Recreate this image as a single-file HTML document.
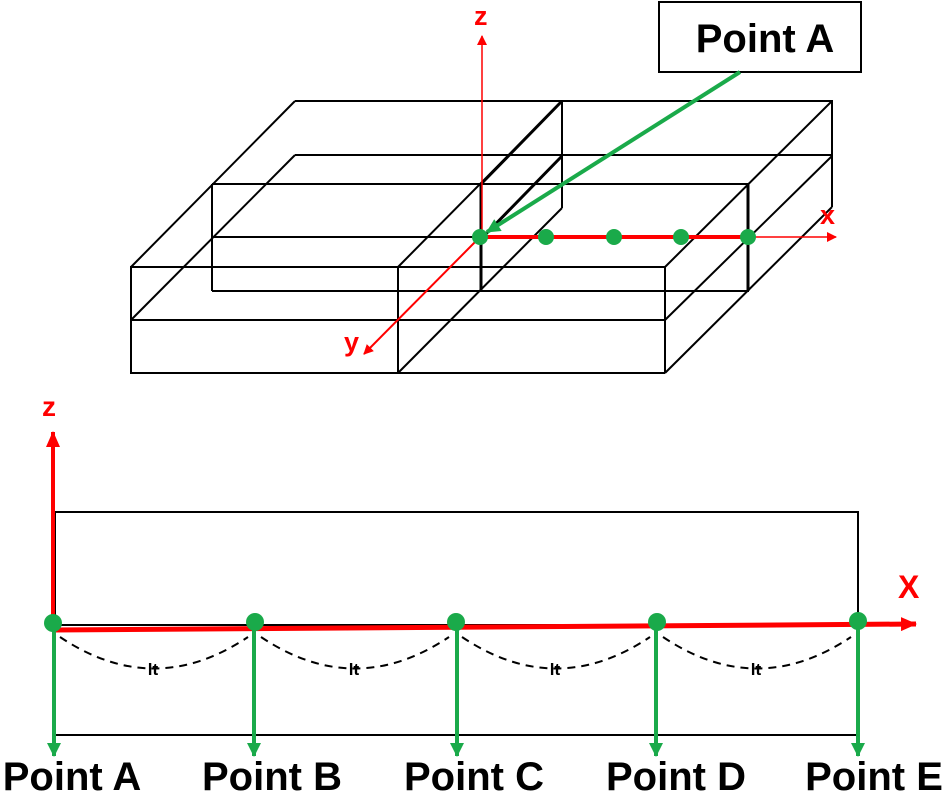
<!DOCTYPE html>
<html><head><meta charset="utf-8"><style>
html,body{margin:0;padding:0;background:#fff;}
svg{display:block;}
text{font-family:"Liberation Sans",sans-serif;font-weight:bold;}
</style></head><body>
<svg width="945" height="792" viewBox="0 0 945 792" xmlns="http://www.w3.org/2000/svg">
<defs>
<marker id="ar" markerWidth="10" markerHeight="10" refX="9" refY="5" orient="auto" markerUnits="userSpaceOnUse"><path d="M0,0 L10,5 L0,10 z" fill="#f00"/></marker>
<marker id="arb" markerWidth="16" markerHeight="14" refX="15" refY="7" orient="auto" markerUnits="userSpaceOnUse"><path d="M0,0 L16,7 L0,14 z" fill="#f00"/></marker>
<marker id="ag" markerWidth="14" markerHeight="14" refX="13" refY="7" orient="auto" markerUnits="userSpaceOnUse"><path d="M0,0 L14,7 L0,14 z" fill="#1aaa4a"/></marker>
</defs>
<g stroke="#000" stroke-width="2" fill="none">
<line x1="295" y1="101" x2="833" y2="101"/>
<line x1="295" y1="155" x2="833" y2="155"/>
<line x1="212" y1="184" x2="749" y2="184"/>
<line x1="212" y1="237" x2="482" y2="237"/>
<line x1="130" y1="267" x2="665" y2="267"/>
<line x1="212" y1="291" x2="749" y2="291"/>
<line x1="130" y1="320" x2="665" y2="320"/>
<line x1="130" y1="373" x2="665" y2="373"/>
<line x1="131" y1="267" x2="131" y2="373"/>
<line x1="212" y1="184" x2="212" y2="291"/>
<line x1="398" y1="267" x2="398" y2="373"/>
<line x1="481" y1="184" x2="481" y2="291" stroke-width="3"/>
<line x1="562" y1="101" x2="562" y2="208"/>
<line x1="832" y1="101" x2="832" y2="207"/>
<line x1="748" y1="184" x2="748" y2="291" stroke-width="3"/>
<line x1="665" y1="267" x2="665" y2="373"/>
<line x1="295" y1="101" x2="131" y2="267"/>
<line x1="295" y1="155" x2="131" y2="320"/>
<line x1="562" y1="101" x2="398" y2="267"/>
<line x1="562" y1="101" x2="482" y2="183" stroke-width="3"/>
<line x1="562" y1="156" x2="482" y2="238" stroke-width="3"/>
<line x1="562" y1="208" x2="398" y2="373"/>
<line x1="832" y1="101" x2="665" y2="267"/>
<line x1="832" y1="156" x2="665" y2="320"/>
<line x1="832" y1="207" x2="665" y2="373"/>
</g>
<line x1="482" y1="237" x2="482" y2="36" stroke="#f00" stroke-width="1.5" marker-end="url(#ar)"/>
<line x1="480" y1="237" x2="748" y2="237" stroke="#f00" stroke-width="4"/>
<line x1="748" y1="237" x2="836" y2="237" stroke="#f00" stroke-width="1.5" marker-end="url(#ar)"/>
<line x1="480" y1="237" x2="364" y2="354" stroke="#f00" stroke-width="2" marker-end="url(#ar)"/>
<text x="474" y="25" font-size="27" fill="#f00">z</text>
<text x="820" y="224" font-size="27" fill="#f00">x</text>
<text x="344" y="351" font-size="27" fill="#f00">y</text>
<g fill="#1aaa4a">
<circle cx="480" cy="237" r="8"/><circle cx="546" cy="237" r="8"/><circle cx="614" cy="237" r="8"/><circle cx="681" cy="237" r="8"/><circle cx="748" cy="237" r="8"/>
</g>
<rect x="659" y="2" width="202" height="70" fill="#fff" stroke="#000" stroke-width="2"/>
<text x="765" y="52" font-size="40" text-anchor="middle">Point A</text>
<line x1="740" y1="72" x2="487" y2="232" stroke="#1aaa4a" stroke-width="4" marker-end="url(#ag)"/>
<rect x="55" y="512" width="803" height="113" fill="none" stroke="#000" stroke-width="2"/>
<line x1="55" y1="735" x2="858" y2="735" stroke="#000" stroke-width="2"/>
<line x1="53" y1="625" x2="53" y2="432" stroke="#f00" stroke-width="4" marker-end="url(#arb)"/>
<text x="42" y="416" font-size="28" fill="#f00">z</text>
<line x1="53" y1="630" x2="916" y2="624" stroke="#f00" stroke-width="5" marker-end="url(#arb)"/>
<text x="898" y="598" font-size="32" fill="#f00">X</text>
<g stroke="#000" stroke-width="2" fill="none" stroke-dasharray="8,6">
<path d="M60,637 Q154,700 248,637"/>
<path d="M261,637 Q355,700 449,637"/>
<path d="M462,637 Q556,700 650,637"/>
<path d="M663,637 Q757,700 851,637"/>
</g>
<g font-size="17" text-anchor="middle"><text x="153" y="675">lt</text><text x="354" y="675">lt</text><text x="555" y="675">lt</text><text x="756" y="675">lt</text></g>
<g stroke="#1aaa4a" stroke-width="4">
<line x1="54" y1="623" x2="54" y2="756" marker-end="url(#ag)"/>
<line x1="254" y1="623" x2="254" y2="756" marker-end="url(#ag)"/>
<line x1="457" y1="623" x2="457" y2="756" marker-end="url(#ag)"/>
<line x1="656" y1="623" x2="656" y2="756" marker-end="url(#ag)"/>
<line x1="858" y1="623" x2="858" y2="756" marker-end="url(#ag)"/>
</g>
<g fill="#1aaa4a">
<circle cx="53" cy="623" r="9"/><circle cx="255" cy="622" r="9"/><circle cx="456" cy="622" r="9"/><circle cx="657" cy="622" r="9"/><circle cx="858" cy="621" r="9"/>
</g>
<g font-size="40" text-anchor="middle">
<text x="72" y="790">Point A</text>
<text x="272" y="790">Point B</text>
<text x="474" y="790">Point C</text>
<text x="676" y="790">Point D</text>
<text x="874" y="790">Point E</text>
</g>
</svg>
</body></html>
